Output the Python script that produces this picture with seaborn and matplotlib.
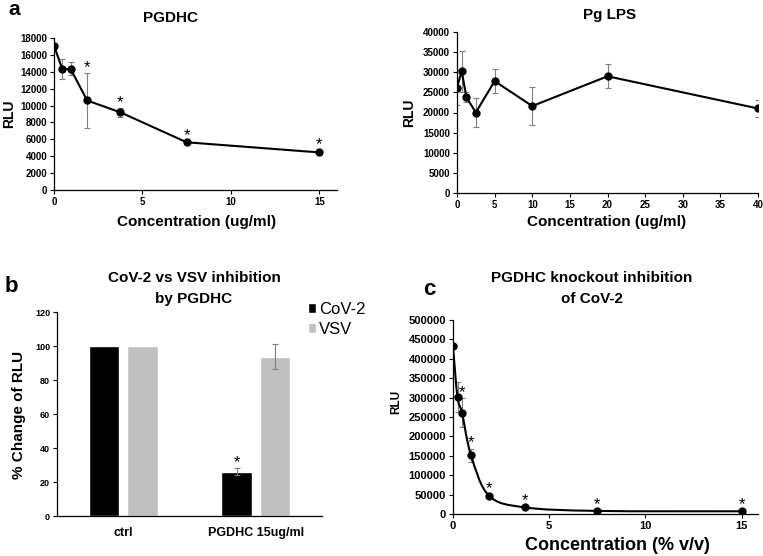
import numpy as np
import pandas as pd
import seaborn as sns
import matplotlib.pyplot as plt
from matplotlib.path import Path
from matplotlib.patches import PathPatch

# panel a - PGDHC dose response
pgdhc_conc = [0, 0.469, 0.9375, 1.875, 3.75, 7.5, 15]
pgdhc_rlu = [17100, 14300, 14350, 10600, 9200, 5650, 4450]
pgdhc_err = [300, 1200, 760, 3200, 500, 150, 200]
pgdhc_sig = [False, False, False, True, True, True, True]

# panel a - Pg LPS dose response
lps_conc = [0, 0.625, 1.25, 2.5, 5, 10, 20, 40]
lps_rlu = [26200, 30300, 23800, 20000, 27800, 21600, 29000, 21000]
lps_err = [4300, 5100, 1200, 3700, 2900, 4700, 3000, 2150]

# panel b - % change of RLU
groups = ['ctrl', 'PGDHC 15ug/ml']
cov2_pct = [100, 26]
cov2_err = [0, 2]
vsv_pct = [100, 93.8]
vsv_err = [0, 7.3]
bar_sig = {('CoV-2', 'PGDHC 15ug/ml')}

# panel c - knockout
ko_conc = [0, 0.234, 0.469, 0.9375, 1.875, 3.75, 7.5, 15]
ko_rlu = [432000, 301000, 261000, 151000, 47000, 17000, 8000, 7000]
ko_err = [0, 39000, 37000, 17000, 4000, 2000, 1000, 1000]
ko_sig = [False, False, True, True, True, True, True, True]

W, H = 763, 556

sns.set_theme(style='ticks')
plt.rcParams['font.family'] = ['Liberation Sans', 'DejaVu Sans']
plt.rcParams['font.weight'] = 'bold'
plt.rcParams['axes.labelweight'] = 'bold'
plt.rcParams['axes.linewidth'] = 0.9
plt.rcParams['axes.edgecolor'] = 'black'
plt.rcParams['text.color'] = 'black'
plt.rcParams['axes.labelcolor'] = 'black'
plt.rcParams['xtick.color'] = 'black'
plt.rcParams['ytick.color'] = 'black'

fig = plt.figure(figsize=(W / 100, H / 100), dpi=100)


def axes_px(left, right, top, bottom):
    return fig.add_axes([left / W, 1 - bottom / H, (right - left) / W, (bottom - top) / H])


def ftext(x, y, s, **kw):
    fig.text(x / W, 1 - y / H, s, **kw)


def style_axes(ax, size):
    sns.despine(ax=ax)
    ax.tick_params(direction='out', length=3, width=0.8, pad=2, labelsize=size, colors='black')


def add_stars(ax, xs, ys, errs, sig, dy=1):
    for x, y, e, s in zip(xs, ys, errs, sig):
        if s:
            ax.annotate('*', (x, y + e), xytext=(0, dy), textcoords='offset points',
                        ha='center', va='baseline', fontsize=12, fontweight='normal')


def line_panel(ax, xs, ys, errs):
    ax.errorbar(xs, ys, yerr=errs, fmt='none', ecolor='#7f7f7f', elinewidth=0.8,
                capsize=2.5, capthick=0.8, zorder=1)
    sns.lineplot(x=xs, y=ys, ax=ax, color='black', lw=1.5, marker='o', markersize=6,
                 markeredgecolor='black', markeredgewidth=0, zorder=3)


def smooth_path(xs, ys):
    # excel style smoothed line (catmull-rom as bezier)
    pts = np.column_stack([xs, ys]).astype(float)
    n = len(pts)
    verts = [pts[0]]
    codes = [Path.MOVETO]
    for i in range(n - 1):
        p0 = pts[max(i - 1, 0)]
        p1 = pts[i]
        p2 = pts[i + 1]
        p3 = pts[min(i + 2, n - 1)]
        verts += [p1 + (p2 - p0) / 6, p2 - (p3 - p1) / 6, p2]
        codes += [Path.CURVE4] * 3
    return Path(verts, codes)


# ---- a: PGDHC ----
ax1 = axes_px(54, 337, 38, 190)
line_panel(ax1, pgdhc_conc, pgdhc_rlu, pgdhc_err)
add_stars(ax1, pgdhc_conc, pgdhc_rlu, pgdhc_err, pgdhc_sig)
ax1.set_xlim(0, 16)
ax1.set_ylim(0, 18000)
ax1.set_xticks([0, 5, 10, 15])
ax1.set_yticks(np.arange(0, 18001, 2000))
style_axes(ax1, 7)
ax1.set_xlabel('Concentration (ug/ml)', fontsize=11, va='center')
ax1.set_ylabel('RLU', fontsize=10, va='center')
ax1.xaxis.set_label_coords(0.502, -0.211)
ax1.yaxis.set_label_coords(-0.159, 0.5)

# ---- a: Pg LPS ----
ax2 = axes_px(457, 758, 32, 193)
line_panel(ax2, lps_conc, lps_rlu, lps_err)
ax2.set_xlim(0, 40)
ax2.set_ylim(0, 40000)
ax2.set_xticks(np.arange(0, 41, 5))
ax2.set_yticks(np.arange(0, 40001, 5000))
style_axes(ax2, 7)
ax2.set_xlabel('Concentration (ug/ml)', fontsize=11, va='center')
ax2.set_ylabel('RLU', fontsize=10, va='center')
ax2.xaxis.set_label_coords(0.498, -0.18)
ax2.yaxis.set_label_coords(-0.159, 0.497)

# ---- b: bars ----
ax3 = axes_px(57, 322, 312, 516)
bars = pd.DataFrame({
    'group': groups * 2,
    'virus': ['CoV-2'] * 2 + ['VSV'] * 2,
    'pct': cov2_pct + vsv_pct,
    'err': cov2_err + vsv_err,
})
sns.barplot(data=bars, x='group', y='pct', hue='virus', order=groups,
            palette={'CoV-2': 'black', 'VSV': '#bfbfbf'}, width=0.58, gap=0.21,
            saturation=1, errorbar=None, ax=ax3)
for cont, virus in zip(ax3.containers, ['CoV-2', 'VSV']):
    sub = bars[bars['virus'] == virus].set_index('group').loc[groups]
    for rect, grp in zip(cont.patches, groups):
        xc = rect.get_x() + rect.get_width() / 2
        val, e = sub.loc[grp, 'pct'], sub.loc[grp, 'err']
        if e > 0:
            ax3.errorbar([xc], [val], yerr=[e], fmt='none', ecolor='#7f7f7f',
                         elinewidth=0.8, capsize=2.5, capthick=0.8)
        if (virus, grp) in bar_sig:
            add_stars(ax3, [xc], [val], [e], [True])
ax3.set_xlim(-0.5, 1.5)
ax3.set_ylim(0, 120)
ax3.set_yticks(np.arange(0, 121, 20))
style_axes(ax3, 6.5)
ax3.tick_params(axis='x', length=0, pad=8, labelsize=9)
ax3.set_xlabel('')
ax3.set_ylabel('% Change of RLU', fontsize=11, va='center')
ax3.yaxis.set_label_coords(-0.143, 0.495)
handles, labels = ax3.get_legend_handles_labels()
ax3.legend(handles, labels, loc='upper left', bbox_to_anchor=(308 / W, 1 - 302 / H),
           bbox_transform=fig.transFigure, frameon=False, prop={'size': 12, 'weight': 'normal'},
           handlelength=0.5, handleheight=0.5, handletextpad=0.15, labelspacing=0.3,
           borderpad=0, borderaxespad=0)

# ---- c: knockout ----
ax4 = axes_px(453, 758, 320, 514)
ax4.errorbar(ko_conc, ko_rlu, yerr=ko_err, fmt='none', ecolor='#7f7f7f', elinewidth=0.8,
             capsize=2.5, capthick=0.8, zorder=1)
ax4.add_patch(PathPatch(smooth_path(ko_conc, ko_rlu), fill=False, edgecolor='black', lw=1.5, zorder=2))
sns.scatterplot(x=ko_conc, y=ko_rlu, ax=ax4, color='black', s=36, linewidth=0, zorder=3)
add_stars(ax4, ko_conc, ko_rlu, ko_err, ko_sig)
ax4.set_xlim(0, 15.85)
ax4.set_ylim(0, 500000)
ax4.set_xticks([0, 5, 10, 15])
ax4.set_yticks(np.arange(0, 500001, 50000))
style_axes(ax4, 8)
ax4.set_xlabel('Concentration (% v/v)', fontsize=13, va='center')
ax4.set_ylabel('RLU', fontsize=8.5, va='center')
ax4.xaxis.set_label_coords(0.538, -0.16)
ax4.yaxis.set_label_coords(-0.187, 0.577)

# titles and panel letters
ftext(170, 22, 'PGDHC', ha='center', va='baseline', fontsize=11, fontweight='bold')
ftext(610, 19, 'Pg LPS', ha='center', va='baseline', fontsize=11, fontweight='bold')
ftext(194, 282, 'CoV-2 vs VSV inhibition', ha='center', va='baseline', fontsize=11, fontweight='bold')
ftext(194, 303, 'by PGDHC', ha='center', va='baseline', fontsize=11, fontweight='bold')
ftext(592, 282, 'PGDHC knockout inhibition', ha='center', va='baseline', fontsize=11, fontweight='bold')
ftext(592, 303, 'of CoV-2', ha='center', va='baseline', fontsize=11, fontweight='bold')
ftext(14, 15, 'a', ha='center', va='baseline', fontsize=15, fontweight='bold')
ftext(11, 292, 'b', ha='center', va='baseline', fontsize=16, fontweight='bold')
ftext(429, 295, 'c', ha='center', va='baseline', fontsize=16, fontweight='bold')

fig.savefig('out.png', dpi=100)
